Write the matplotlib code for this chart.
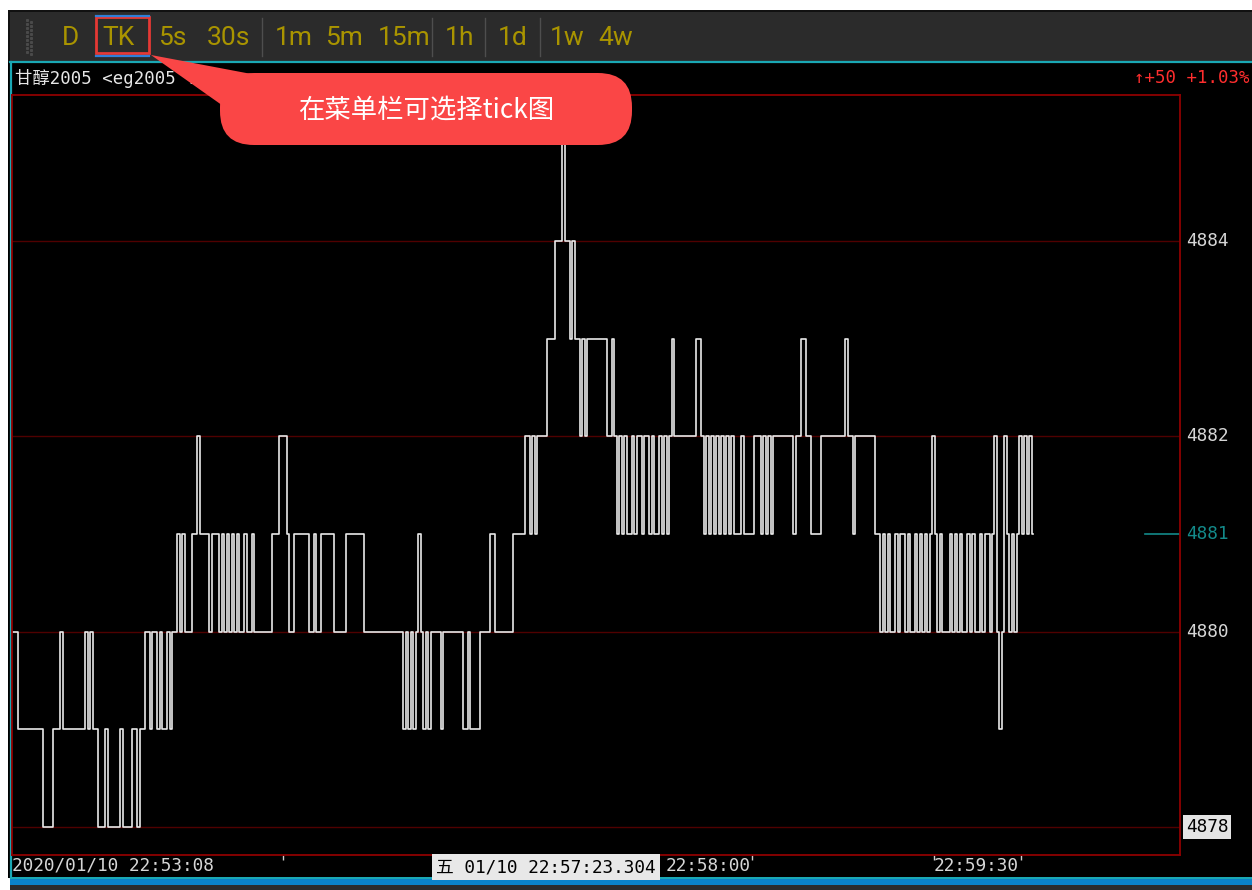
import numpy as np
import matplotlib
matplotlib.use('Agg')
import matplotlib.pyplot as plt
import matplotlib.transforms as mtransforms
from matplotlib.patches import Rectangle, FancyBboxPatch, Polygon

plt.rcParams['font.family'] = ['Noto Sans CJK SC', 'DejaVu Sans']
MONO = ['DejaVu Sans Mono', 'Noto Sans CJK SC']

# tick-by-tick last price, stored as runs: price level and number of ticks it held
run_price = [
    4880, 4879, 4878, 4879, 4880, 4879, 4880, 4879, 4880, 4879, 4878, 4879, 4878, 4879, 4878,
    4879, 4878, 4879, 4880, 4879, 4880, 4879, 4880, 4879, 4880, 4879, 4880, 4881, 4880, 4881,
    4880, 4881, 4882, 4881, 4880, 4881, 4880, 4881, 4880, 4881, 4880, 4881, 4880, 4881, 4880,
    4881, 4880, 4881, 4880, 4881, 4882, 4881, 4880, 4881, 4880, 4881, 4880, 4881, 4880, 4881,
    4880, 4879, 4880, 4879, 4880, 4879, 4880, 4881, 4880, 4879, 4880, 4879, 4880, 4879, 4880,
    4879, 4880, 4879, 4880, 4881, 4880, 4881, 4882, 4881, 4882, 4881, 4882,
    4883, 4884, 4885, 4884, 4883, 4884, 4883, 4882, 4883, 4882, 4883, 4882, 4883, 4882,
    4881, 4882, 4881, 4882, 4881, 4882, 4881, 4882, 4881, 4882, 4881, 4882, 4881, 4882, 4881,
    4882, 4881, 4882, 4883, 4882, 4883, 4882,
    4881, 4882, 4881, 4882, 4881, 4882, 4881, 4882, 4881, 4882, 4881, 4882, 4881, 4882, 4881,
    4882, 4881, 4882, 4881, 4882, 4881, 4882, 4881, 4882, 4883, 4882, 4881, 4882, 4883, 4882,
    4881, 4882,
    4881, 4880, 4881, 4880, 4881, 4880, 4881, 4880, 4881, 4880, 4881, 4880, 4881, 4880, 4881,
    4880, 4881, 4880, 4881, 4882, 4881,
    4880, 4881, 4880, 4881, 4880, 4881, 4880, 4881, 4880, 4881, 4880, 4881, 4880, 4881, 4880,
    4881, 4880, 4881,
    4882, 4880, 4879, 4880, 4882, 4881, 4880, 4881, 4880, 4881, 4882, 4881, 4882, 4881, 4882,
    4881,
]
run_len = [
    3, 10, 4, 3, 1, 9, 1, 1, 1, 2, 3, 1, 5, 1, 4,
    2, 1, 2, 2, 1, 2, 1, 1, 2, 1, 1, 2, 1, 1, 1,
    3, 2, 1, 4, 1, 3, 1, 1, 1, 1, 1, 1, 1, 1, 2,
    1, 2, 1, 7, 3, 3, 1, 2, 6, 2, 1, 2, 5, 5, 7,
    16, 1, 1, 1, 1, 1, 1, 1, 1, 1, 1, 1, 4, 1, 8,
    2, 1, 4, 4, 2, 7, 5, 2, 1, 1, 1, 4,
    3, 3, 1, 2, 1, 1, 2, 1, 1, 1, 8, 2, 1, 1,
    1, 1, 1, 1, 2, 1, 1, 2, 1, 2, 1, 1, 2, 1, 1,
    1, 1, 1, 1, 9, 2, 1,
    1, 1, 1, 1, 1, 1, 1, 1, 1, 1, 1, 1, 3, 1, 4,
    3, 1, 1, 1, 1, 1, 8, 1, 2, 2, 2, 4, 10, 1, 2,
    1, 8,
    2, 1, 1, 1, 1, 2, 1, 1, 2, 1, 1, 2, 1, 1, 1,
    1, 1, 1, 1, 1, 1,
    1, 1, 3, 1, 1, 1, 1, 1, 2, 1, 1, 1, 2, 1, 1,
    2, 1, 1,
    1, 1, 1, 1, 1, 1, 1, 1, 1, 1, 1, 1, 1, 1, 1,
    1,
]
assert len(run_price) == len(run_len)
price = np.repeat(run_price, run_len)
idx = np.arange(len(price))

grid_prices = [4878, 4880, 4882, 4884]
last_price = 4881
title_text = '甘醇2005 <eg2005 Tick>'
change_text = '↑+50 +1.03%'
periods = ['D', 'TK', '5s', '30s', '1m', '5m', '15m', '1h', '1d', '1w', '4w']
period_x = [62, 102, 158, 207, 275, 325, 378, 445, 498, 550, 598]
separator_x = [262, 432, 485, 540]
time_tick_idx = [109, 298, 371, 406]
time_labels = ['2020/01/10 22:53:08', '22:58:00', '22:59:30']
time_label_idx = [0, 263, 371]
cursor_idx = 215
cursor_label = '五 01/10 22:57:23.304'
callout_text = '在菜单栏可选择tick图'

W, H = 1252, 890
fig = plt.figure(figsize=(W / 100, H / 100), dpi=100)
fig.patch.set_facecolor('white')

# window chrome drawn in pixel coordinates
bg = fig.add_axes([0, 0, 1, 1], zorder=0)
bg.set_xlim(0, W)
bg.set_ylim(H, 0)
bg.axis('off')
bg.add_patch(Rectangle((8, 10), W - 8, 52, facecolor='#111111', edgecolor='none'))
bg.add_patch(Rectangle((10, 12), W - 10, 49, facecolor='#2b2b2b', edgecolor='none'))
bg.add_patch(Rectangle((8, 62), W - 8, 816, facecolor='black', edgecolor='none'))
bg.plot([10, W], [61.5, 61.5], color='#1aa8b4', lw=1.6)
bg.plot([10.5, 10.5], [62, 878], color='#1aa8b4', lw=1.6)
bg.add_patch(Rectangle((10, 877), W - 10, 2, facecolor='#1aa8b4', edgecolor='none'))
bg.add_patch(Rectangle((10, 879), W - 10, 6, facecolor='#0a82c8', edgecolor='none'))
bg.add_patch(Rectangle((10, 885), W - 10, 5, facecolor='#2b2b2b', edgecolor='none'))

# grip dots and period buttons
for gy in np.arange(20, 56, 4):
    bg.plot([27, 31], [gy, gy + 2], ls='none', marker='s', ms=1.2, color='#4a4a4a')
for label, px in zip(periods, period_x):
    bg.text(px, 38, label, color='#a99400', fontsize=19, family='Roboto',
            ha='left', va='center')
for sx in separator_x:
    bg.plot([sx, sx], [18, 56], color='#4e4e4e', lw=1)
bg.add_patch(Rectangle((96, 17), 53, 36, facecolor='none', edgecolor='#e53935', lw=2))
bg.plot([96, 149], [15.5, 15.5], color='#2f7fd8', lw=1.6)
bg.plot([96, 149], [55.5, 55.5], color='#2f7fd8', lw=1.6)

bg.text(15, 78, title_text, color='#e6e6e6', fontsize=12.5, family=MONO,
        ha='left', va='center')
bg.text(1250, 78, change_text, color='#ff2e2e', fontsize=12.5, family=MONO,
        ha='right', va='center')

# tick price panel
left, top, right, bottom = 12, 95, 1180, 855
ax = fig.add_axes([left / W, (H - bottom) / H, (right - left) / W, (bottom - top) / H], zorder=1)
ax.set_facecolor('black')
ax.plot(idx, price, color='#e8e8e8', lw=1.2, drawstyle='steps-mid')
ax.set_xlim(0, (len(price) - 1) * (right - left) / (1033 - left))
ax.set_ylim(4877.713, 4885.495)
for gp in grid_prices:
    ax.axhline(gp, color='#500000', lw=1, zorder=0)
ax.axhline(last_price, xmin=(1145 - left) / (right - left), xmax=1, color='#138a8a', lw=1.2)
for s in ax.spines.values():
    s.set_color('#8e0000')
    s.set_linewidth(1.3)
ax.set_yticks([])
ax.set_xticks(time_tick_idx)
ax.tick_params(axis='x', direction='out', length=3.5, width=1, color='#cfcfcf', labelbottom=False)

ytrans = mtransforms.blended_transform_factory(ax.transAxes, ax.transData)
for gp in grid_prices:
    if gp == grid_prices[0]:
        ax.text(1 + 6 / (right - left), gp, str(gp), transform=ytrans, color='black',
                fontsize=12.8, family=MONO, ha='left', va='center',
                bbox=dict(boxstyle='square,pad=0.15', facecolor='#e4e4e4', edgecolor='none'))
    else:
        ax.text(1 + 6 / (right - left), gp, str(gp), transform=ytrans, color='#d6d6d6',
                fontsize=12.8, family=MONO, ha='left', va='center')
ax.text(1 + 6 / (right - left), last_price, str(last_price), transform=ytrans,
        color='#138a8a', fontsize=12.8, family=MONO, ha='left', va='center')

xtrans = mtransforms.blended_transform_factory(ax.transData, ax.transAxes)
for lab, li in zip(time_labels, time_label_idx):
    ax.text(li, -11 / (bottom - top), lab, transform=xtrans, color='#d6d6d6',
            fontsize=12.8, family=MONO, ha='left', va='center', clip_on=False)
ax.text(cursor_idx, -12 / (bottom - top), cursor_label, transform=xtrans, color='black',
        fontsize=12.8, family=MONO, ha='center', va='center', zorder=5,
        bbox=dict(boxstyle='square,pad=0.25', facecolor='#e8e8e8', edgecolor='none'))

# callout bubble on top of everything
fg = fig.add_axes([0, 0, 1, 1], zorder=3)
fg.set_xlim(0, W)
fg.set_ylim(H, 0)
fg.axis('off')
fg.patch.set_alpha(0)
fg.add_patch(Polygon([(151, 55), (262, 76), (226, 108)], closed=True,
                     facecolor='#fa4646', edgecolor='none'))
fg.add_patch(FancyBboxPatch((220, 73), 412, 72, boxstyle='round,pad=0,rounding_size=34',
                            facecolor='#fa4646', edgecolor='none'))
fg.text(426, 110, callout_text, color='white', fontsize=19, ha='center', va='center')

fig.savefig('out.png', dpi=100, facecolor=fig.get_facecolor())
